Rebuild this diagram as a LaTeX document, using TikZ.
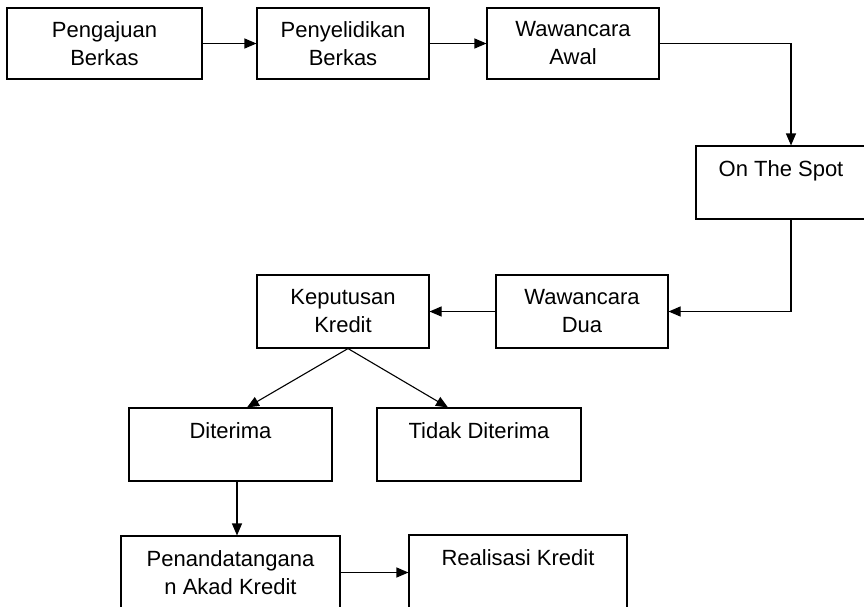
\documentclass[tikz,border=0pt]{standalone}
\usepackage{fontspec}
\setmainfont{Liberation Sans}
\usetikzlibrary{arrows.meta}
\begin{document}
\begin{tikzpicture}[x=1pt,y=-1pt,
  box/.style={draw, line width=1.1pt, inner sep=0pt, align=center,
    font=\fontsize{22}{28}\selectfont, minimum height=73pt},
  conn/.style={line width=1.1pt, -{Triangle[length=12pt,width=10pt]}},
  plain/.style={line width=1.1pt}]
\useasboundingbox (0,0) rectangle (864,606);
\clip (0,0) rectangle (864,606);
% top row
\node[box, minimum width=195pt, minimum height=71pt] (b1) at (104.5,43.5) {Pengajuan\\Berkas};
\node[box, minimum width=172pt, minimum height=71pt] (b2) at (343,43.5) {Penyelidikan\\Berkas};
\node[box, minimum width=172pt, minimum height=71pt] (b3) at (573,43.5) {Wawancara\\Awal};
% on the spot
\node[box, minimum width=170pt] (ots) at (781,182.5) {On The Spot\\\phantom{X}};
% second row
\node[box, minimum width=172pt] (wd) at (582,311.5) {Wawancara\\Dua};
\node[box, minimum width=172pt] (kp) at (343,311.5) {Keputusan\\Kredit};
% third row
\node[box, minimum width=203pt] (dt) at (230.5,444.5) {Diterima\\\phantom{X}};
\node[box, minimum width=204pt] (td) at (479,444.5) {Tidak Diterima\\\phantom{X}};
% bottom row
\node[box, minimum width=219pt] (pn) at (230.5,572.5) {Penandatangana\\n Akad Kredit};
\node[box, minimum width=218pt] (rk) at (518,571.5) {Realisasi Kredit\\\phantom{X}};
% connectors
\coordinate (c1) at (791,43.5);
\draw[conn] (b1.east) -- (b2.west);
\draw[conn] (b2.east) -- (b3.west);
\draw[conn] (b3.east) -- (c1) -- (c1 |- ots.north);
\draw[conn] (c1 |- ots.south) -- (c1 |- wd.east) -- (wd.east);
\draw[conn] (wd.west) -- (kp.east);
\coordinate (apex) at ([xshift=5pt]kp.south);
\draw[conn] (apex) -- ([xshift=16.5pt]dt.north);
\draw[conn] (apex) -- ([xshift=-31pt]td.north);
\coordinate (c2) at ([xshift=6.5pt]dt.south);
\draw[conn] (c2) -- (c2 |- pn.north);
\draw[conn] (pn.east) -- (pn.east -| rk.west);
\end{tikzpicture}
\end{document}
